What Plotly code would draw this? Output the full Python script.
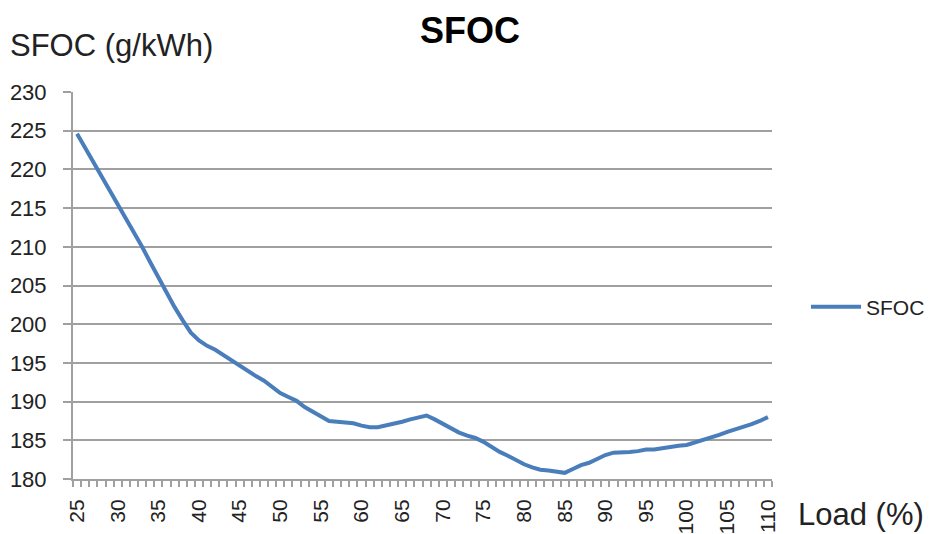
import plotly.graph_objects as go

load = list(range(25, 111))
sfoc = [
    224.6, 222.8, 220.9, 219.1, 217.3, 215.6, 213.8, 211.9, 210.0, 208.0,
    206.0, 204.0, 202.2, 200.5, 198.9, 197.9, 197.2, 196.7, 196.0, 195.3,
    194.7, 194.0, 193.3, 192.7, 191.9, 191.1, 190.6, 190.1, 189.3, 188.7,
    188.0, 187.5, 187.4, 187.3, 187.2, 186.9, 186.7, 186.7, 186.9, 187.2,
    187.4, 187.7, 188.0, 188.2, 187.7, 187.1, 186.5, 186.0, 185.6, 185.3,
    184.8, 184.1, 183.5, 183.0, 182.4, 181.9, 181.5, 181.2, 181.1, 181.0,
    180.8, 181.3, 181.8, 182.1, 182.6, 183.1, 183.4, 183.4, 183.5, 183.6,
    183.8, 183.8, 184.0, 184.1, 184.3, 184.4, 184.7, 185.0, 185.3, 185.7,
    186.1, 186.4, 186.8, 187.1, 187.5, 188.0,
]
x_tick_vals = list(range(25, 111, 5))
x_tick_text = [str(v) for v in x_tick_vals]
y_tick_vals = list(range(180, 231, 5))

FONT = "Liberation Sans, Arial, sans-serif"
GRID = "#a0a0a0"

fig = go.Figure()
fig.add_trace(go.Scatter(
    x=load, y=sfoc, mode="lines", name="SFOC",
    line=dict(color="#4a7ebb", width=4),
))

fig.update_layout(
    width=929, height=534,
    margin=dict(l=73, r=157, t=92, b=55),
    paper_bgcolor="white", plot_bgcolor="white",
    font=dict(family=FONT, color="#222222"),
    title=dict(text="<b>SFOC</b>", x=470 / 929, xanchor="center",
               y=1 - 30 / 534, yanchor="middle",
               font=dict(size=36, color="#000000", family=FONT)),
    showlegend=True,
    legend=dict(xref="container", yref="container",
                x=806 / 929, y=1 - 307 / 534, xanchor="left", yanchor="middle",
                font=dict(size=21, color="#222222"), itemwidth=50,
                bgcolor="rgba(0,0,0,0)"),
    xaxis=dict(
        range=[24.5, 110.5], tickmode="array", tickvals=x_tick_vals,
        ticktext=x_tick_text, ticks="", tickangle=-90, automargin=False,
        tickfont=dict(size=21, color="#222222"), ticklabelstandoff=10,
        showgrid=False, zeroline=False,
        showline=True, linecolor=GRID, linewidth=2,
        minor=dict(ticks="outside", tick0=24.5, dtick=1, ticklen=6,
                   tickcolor=GRID, tickwidth=1.5, showgrid=False),
    ),
    yaxis=dict(
        range=[180, 230], tickmode="array", tickvals=y_tick_vals,
        ticks="outside", ticklen=8, tickcolor=GRID, tickwidth=1.5,
        automargin=False,
        tickfont=dict(size=22, color="#222222"), ticklabelstandoff=12,
        showgrid=True, gridcolor=GRID, gridwidth=1.5,
        zeroline=False, showline=True, linecolor=GRID, linewidth=2,
    ),
    annotations=[
        dict(text="SFOC (g/kWh)", xref="paper", yref="paper",
             x=-65 / 699, y=1 + (92 - 46) / 387, xanchor="left", yanchor="middle",
             showarrow=False, font=dict(size=31, color="#222222", family=FONT)),
        dict(text="Load (%)", xref="paper", yref="paper",
             x=(796 - 73) / 699, y=-(514 - 479) / 387, xanchor="left", yanchor="middle",
             showarrow=False, font=dict(size=31, color="#222222", family=FONT)),
    ],
)

fig.write_html(
    "out.html",
    config={"displayModeBar": False},
    post_script="document.body.style.margin='0';document.body.style.padding='0';"
                "document.documentElement.style.overflow='hidden';",
)
